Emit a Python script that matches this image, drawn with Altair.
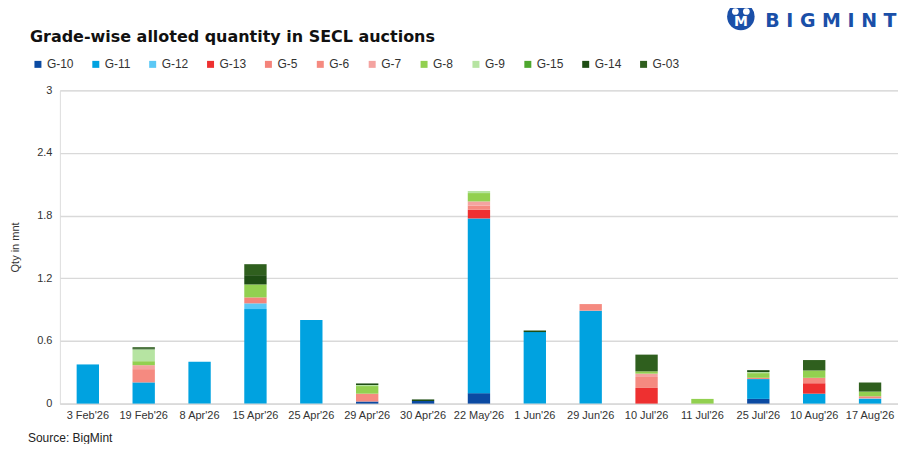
import altair as alt
import pandas as pd

dates = ["3 Feb'26", "19 Feb'26", "8 Apr'26", "15 Apr'26", "25 Apr'26", "29 Apr'26",
         "30 Apr'26", "22 May'26", "1 Jun'26", "29 Jun'26", "10 Jul'26", "11 Jul'26",
         "25 Jul'26", "10 Aug'26", "17 Aug'26"]

grades = ["G-10", "G-11", "G-12", "G-13", "G-5", "G-6", "G-7", "G-8", "G-9", "G-15", "G-14", "G-03"]
colors = ["#0B4AA2", "#00A2E0", "#5BC8F5", "#EE3030", "#F4837A", "#F58A80", "#F4A3A0",
          "#92D050", "#B6E4A2", "#4EA72E", "#1E4D14", "#2F5F1E"]

g10 = [0, 0, 0, 0, 0, 0.02, 0.025, 0.10, 0, 0, 0, 0, 0.045, 0, 0]
g11 = [0.375, 0.203, 0.40, 0.905, 0.80, 0, 0, 1.673, 0.685, 0.89, 0, 0, 0.19, 0.095, 0.045]
g12 = [0, 0, 0, 0.055, 0, 0, 0, 0, 0, 0, 0, 0, 0, 0, 0.005]
g13 = [0, 0, 0, 0, 0, 0, 0, 0.083, 0, 0, 0.15, 0, 0, 0.10, 0]
g5 = [0, 0, 0, 0.057, 0, 0, 0, 0, 0, 0, 0, 0, 0, 0, 0]
g6 = [0, 0.127, 0, 0, 0, 0.075, 0, 0.04, 0, 0.063, 0.105, 0, 0.012, 0.052, 0.02]
g7 = [0, 0.038, 0, 0, 0, 0, 0, 0.04, 0, 0, 0.032, 0, 0, 0, 0]
g8 = [0, 0.038, 0, 0.124, 0, 0.073, 0, 0.08, 0, 0, 0.022, 0.045, 0.045, 0.07, 0.045]
g9 = [0, 0.114, 0, 0, 0, 0.01, 0, 0.02, 0, 0, 0, 0, 0.01, 0, 0]
g15 = [0] * 15
g14 = [0, 0.01, 0, 0.089, 0, 0.015, 0.015, 0, 0.015, 0, 0, 0, 0.018, 0, 0]
g03 = [0, 0.01, 0, 0.105, 0, 0, 0, 0, 0, 0, 0.16, 0, 0, 0.10, 0.087]

series = [g10, g11, g12, g13, g5, g6, g7, g8, g9, g15, g14, g03]

rows = []
for gi, (g, vals) in enumerate(zip(grades, series)):
    for d, v in zip(dates, vals):
        rows.append({"date": d, "grade": g, "value": v, "idx": gi})
df = pd.DataFrame(rows)

FONT = "Liberation Sans"

bars = alt.Chart(df).mark_bar().encode(
    x=alt.X("date:N", sort=dates, title=None,
            scale=alt.Scale(paddingInner=0.6, paddingOuter=0.3),
            axis=alt.Axis(labelAngle=0, ticks=False, labelFontSize=11, labelFont=FONT,
                          labelColor="#333333", labelPadding=6, domainColor="#D9D9D9",
                          domainWidth=1.3)),
    y=alt.Y("value:Q", stack="zero", title="Qty in mnt",
            scale=alt.Scale(domain=[0, 3], nice=False),
            axis=alt.Axis(values=[0, 0.6, 1.2, 1.8, 2.4, 3], format="~g", domain=False,
                          ticks=False, labelFontSize=11, labelFont=FONT, labelColor="#333333",
                          labelPadding=8, gridColor="#D9D9D9", gridWidth=1.3,
                          titleFont=FONT, titleFontSize=11, titleFontWeight="normal",
                          titleColor="#333333", titleX=-44, titleY=157,
                          titleBaseline="middle", titleAlign="center")),
    color=alt.Color("grade:N", scale=alt.Scale(domain=grades, range=colors),
                    legend=alt.Legend(title=None, orient="none", direction="horizontal",
                                      columns=12, legendX=-28, legendY=-32,
                                      symbolType="square", symbolSize=49,
                                      symbolStrokeWidth=0, labelFontSize=12,
                                      labelFont=FONT, labelColor="#333333",
                                      labelOffset=3, columnPadding=16, padding=0)),
    order=alt.Order("idx:Q", sort="ascending"),
)

title = alt.Chart(pd.DataFrame({"t": ["Grade-wise alloted quantity in SECL auctions"]})).mark_text(
    font="DejaVu Sans", fontSize=16, fontWeight="bold", color="#111111",
    align="left", baseline="alphabetic"
).encode(x=alt.value(-30), y=alt.value(-48), text="t:N")

source = alt.Chart(pd.DataFrame({"t": ["Source: BigMint"]})).mark_text(
    font=FONT, fontSize=12, color="#222222", align="left", baseline="alphabetic"
).encode(x=alt.value(-32), y=alt.value(352), text="t:N")

logo_text = alt.Chart(pd.DataFrame({"t": ["B I G M I N T"]})).mark_text(
    font="DejaVu Sans", fontSize=19, fontWeight="bold", color="#1A4FA8",
    align="left", baseline="alphabetic"
).encode(x=alt.value(707), y=alt.value(-63), text="t:N")

logo_circle = alt.Chart(pd.DataFrame({"t": ["o"]})).mark_point(
    filled=True, shape="circle", size=760, color="#1A4FA8", opacity=1
).encode(x=alt.value(682.5), y=alt.value(-74))

heads_a = alt.Chart(pd.DataFrame({"t": ["a"]})).mark_point(
    filled=True, shape="circle", size=45, color="white", opacity=1
).encode(x=alt.value(677), y=alt.value(-79))
heads_b = alt.Chart(pd.DataFrame({"t": ["b"]})).mark_point(
    filled=True, shape="circle", size=45, color="white", opacity=1
).encode(x=alt.value(688), y=alt.value(-79))
body = alt.Chart(pd.DataFrame({"t": ["M"]})).mark_text(
    font="DejaVu Sans", fontSize=14, fontWeight="bold", color="white", align="center",
    baseline="middle"
).encode(x=alt.value(682.5), y=alt.value(-68), text="t:N")

chart = alt.layer(bars, title, source, logo_circle, heads_a, heads_b, body, logo_text).properties(
    width=840, height=314,
    padding={"left": 52, "top": 82, "right": 0, "bottom": 40},
    autosize=alt.AutoSizeParams(type="none"),
).configure_view(stroke=None).configure(background="white")

chart.save("out.html", embed_options={"renderer": "svg", "actions": False})
